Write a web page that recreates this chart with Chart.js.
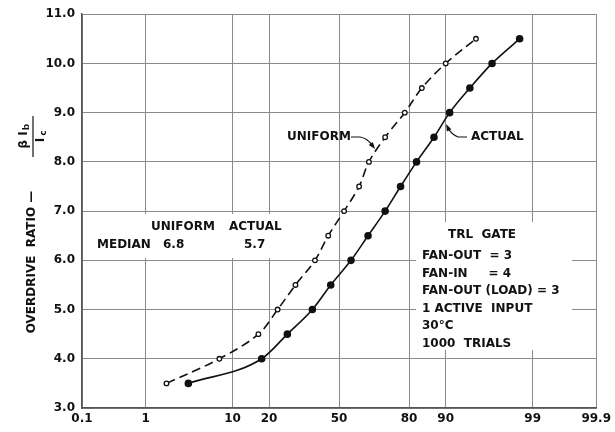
<!DOCTYPE html>
<html>
<head>
<meta charset="utf-8">
<script src="https://cdn.jsdelivr.net/npm/chart.js@4.4.1/dist/chart.umd.min.js"></script>
<style>
  html, body { margin: 0; padding: 0; background: #fff; }
  #wrap { width: 615px; height: 432px; }
</style>
</head>
<body>
<div id="wrap"><canvas id="myChart" width="615" height="432"></canvas></div>
<script>
// cumulative percent of trials (probability scale) vs overdrive ratio
const ratioValues = [3.5, 4.0, 4.5, 5.0, 5.5, 6.0, 6.5, 7.0, 7.5, 8.0, 8.5, 9.0, 9.5, 10.0, 10.5];
const uniformPct = [1.9, 7.5, 16.6, 23, 30, 38.6, 44.8, 52.4, 59.5, 64, 71, 78.5, 84, 90, 95];
const actualPct = [3.5, 17.6, 26.7, 37.4, 46, 55.7, 63.6, 71, 77, 82.4, 87.3, 90.8, 94.2, 96.7, 98.5];
const xTickPct = [0.1, 1, 10, 20, 50, 80, 90, 99, 99.9];
const xTickLabels = ['0.1', '1', '10', '20', '50', '80', '90', '99', '99.9'];
const medianUniform = 6.8;
const medianActual = 5.7;

// inverse normal cdf (Acklam) -> position on probability paper
function probit(p) {
  const a = [-39.69683028665376, 220.9460984245205, -275.9285104469687, 138.3577518672690, -30.66479806614716, 2.506628277459239];
  const b = [-54.47609879822406, 161.5858368580409, -155.6989798598866, 66.80131188771972, -13.28068155288572];
  const c = [-0.007784894002430293, -0.3223964580411365, -2.400758277161838, -2.549732539343734, 4.374664141464968, 2.938163982698783];
  const d = [0.007784695709041462, 0.3224671290700398, 2.445134137142996, 3.754408661907416];
  const pl = 0.02425;
  let q, r;
  if (p < pl) {
    q = Math.sqrt(-2 * Math.log(p));
    return (((((c[0]*q+c[1])*q+c[2])*q+c[3])*q+c[4])*q+c[5]) / ((((d[0]*q+d[1])*q+d[2])*q+d[3])*q+1);
  }
  if (p > 1 - pl) {
    q = Math.sqrt(-2 * Math.log(1 - p));
    return -(((((c[0]*q+c[1])*q+c[2])*q+c[3])*q+c[4])*q+c[5]) / ((((d[0]*q+d[1])*q+d[2])*q+d[3])*q+1);
  }
  q = p - 0.5; r = q * q;
  return (((((a[0]*r+a[1])*r+a[2])*r+a[3])*r+a[4])*r+a[5])*q / (((((b[0]*r+b[1])*r+b[2])*r+b[3])*r+b[4])*r+1);
}
const z = pct => probit(pct / 100);

const FONT = 'DejaVu Sans';
const INK = '#111';

const toPoints = (pcts) => pcts.map((p, i) => ({ x: z(p), y: ratioValues[i] }));

function arrowHead(ctx, x, y, ang) {
  ctx.save();
  ctx.translate(x, y);
  ctx.rotate(ang);
  ctx.beginPath();
  ctx.moveTo(0, 0);
  ctx.lineTo(-7, -2.5);
  ctx.lineTo(-7, 2.5);
  ctx.closePath();
  ctx.fill();
  ctx.restore();
}

const notes = {
  id: 'notes',
  beforeDatasetsDraw(chart) {
    const ctx = chart.ctx;
    ctx.save();
    ctx.fillStyle = '#fff';
    ctx.fillRect(88, 214, 205, 44);
    ctx.fillRect(416, 222, 156, 128);
    ctx.restore();
  },
  afterDraw(chart) {
    const ctx = chart.ctx;
    ctx.save();
    ctx.fillStyle = INK;
    ctx.strokeStyle = INK;
    ctx.textBaseline = 'middle';
    ctx.font = 'bold 12px ' + FONT;

    // median table
    ctx.textAlign = 'left';
    ctx.fillText('UNIFORM', 151, 227);
    ctx.fillText('ACTUAL', 229, 227);
    ctx.fillText('MEDIAN', 97, 245);
    ctx.fillText(medianUniform.toFixed(1), 163, 245);
    ctx.fillText(medianActual.toFixed(1), 244, 245);

    // conditions box
    const lines = ['FAN-OUT  = 3', 'FAN-IN     = 4', 'FAN-OUT (LOAD) = 3', '1 ACTIVE  INPUT', '30°C', '1000  TRIALS'];
    ctx.fillText('TRL  GATE', 448, 235);
    lines.forEach((t, i) => ctx.fillText(t, 422, 256 + i * 17.5));

    // curve labels with leaders
    ctx.fillText('UNIFORM', 287, 137);
    ctx.fillText('ACTUAL', 471, 137);
    ctx.lineWidth = 1.2;
    ctx.beginPath();
    ctx.moveTo(351, 137);
    ctx.lineTo(360, 137);
    ctx.quadraticCurveTo(367, 138, 372, 145);
    ctx.stroke();
    arrowHead(ctx, 375, 149, Math.atan2(4, 3));
    ctx.beginPath();
    ctx.moveTo(467, 137);
    ctx.lineTo(458, 137);
    ctx.quadraticCurveTo(451, 134, 448, 128);
    ctx.stroke();
    arrowHead(ctx, 446, 124, Math.atan2(-4, -2));

    // y axis title
    ctx.translate(32, 0);
    ctx.rotate(-Math.PI / 2);
    ctx.textAlign = 'center';
    ctx.font = 'bold 12px ' + FONT;
    ctx.fillText('OVERDRIVE  RATIO —', -262, 0);
    // fraction  β I_b / I_c
    ctx.fillText('β I', -140, -8);
    ctx.font = 'bold 9px ' + FONT;
    ctx.fillText('b', -127, -5);
    ctx.lineWidth = 1.2;
    ctx.beginPath();
    ctx.moveTo(-157, 1);
    ctx.lineTo(-116, 1);
    ctx.stroke();
    ctx.font = 'bold 12px ' + FONT;
    ctx.fillText('I', -140, 9);
    ctx.font = 'bold 9px ' + FONT;
    ctx.fillText('c', -133, 12);
    ctx.restore();
  }
};

const ctx = document.getElementById('myChart').getContext('2d');

new Chart(ctx, {
  type: 'line',
  data: {
    datasets: [
      {
        label: 'Uniform',
        data: toPoints(uniformPct),
        borderColor: INK,
        borderWidth: 1.6,
        borderDash: [9, 5],
        pointRadius: 2.3,
        pointBorderWidth: 1.3,
        pointBackgroundColor: '#fff',
        pointBorderColor: INK,
        tension: 0.35
      },
      {
        label: 'Actual',
        data: toPoints(actualPct),
        borderColor: INK,
        borderWidth: 1.6,
        pointRadius: 3,
        pointBackgroundColor: INK,
        pointBorderColor: INK,
        cubicInterpolationMode: 'monotone'
      }
    ]
  },
  options: {
    responsive: false,
    animation: false,
    layout: { padding: { left: 0, top: 12, right: 17, bottom: 0 } },
    plugins: { legend: { display: false }, tooltip: { enabled: false } },
    scales: {
      x: {
        type: 'linear',
        min: z(xTickPct[0]),
        max: z(xTickPct[xTickPct.length - 1]),
        afterBuildTicks: (scale) => { scale.ticks = xTickPct.map(p => ({ value: z(p) })); },
        afterFit: (scale) => { scale.height = 24; },
        ticks: {
          autoSkip: false,
          maxRotation: 0,
          padding: 4,
          color: INK,
          font: { family: FONT, size: 12, weight: 'bold' },
          callback: (v, i) => xTickLabels[i]
        },
        grid: { color: '#8a8a8a', lineWidth: 1, tickLength: 0 },
        border: { color: '#555', width: 1.5 }
      },
      y: {
        min: 3,
        max: 11,
        afterFit: (scale) => { scale.width = 82; },
        ticks: {
          stepSize: 1,
          padding: 7,
          color: INK,
          font: { family: FONT, size: 12, weight: 'bold' },
          callback: (v) => v.toFixed(1)
        },
        grid: { color: '#8a8a8a', lineWidth: 1, tickLength: 0 },
        border: { color: '#555', width: 1.5 }
      }
    }
  },
  plugins: [notes]
});
</script>
</body>
</html>
